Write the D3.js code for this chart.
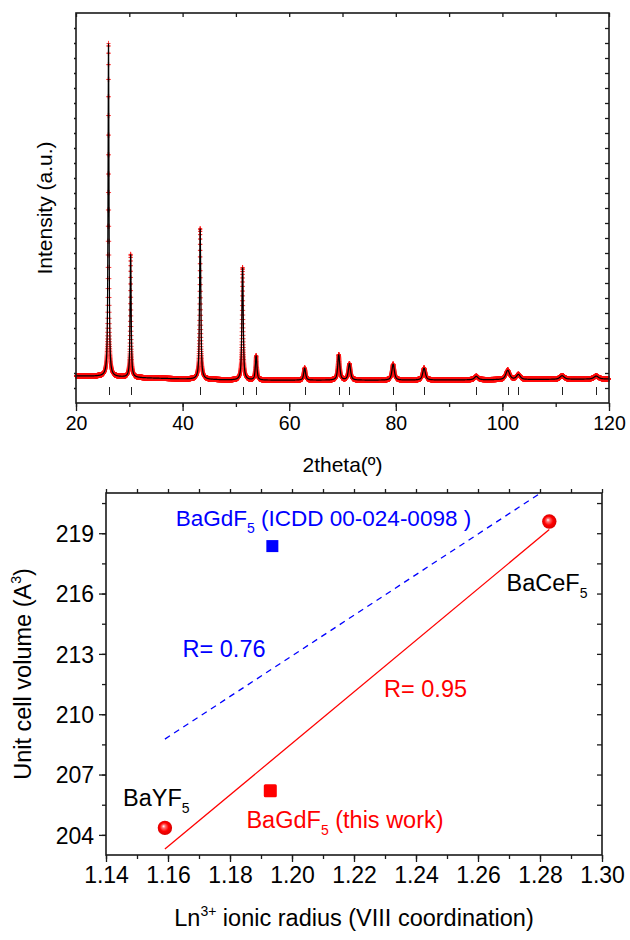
<!DOCTYPE html>
<html>
<head>
<meta charset="utf-8">
<script src="https://cdn.jsdelivr.net/npm/d3@7"></script>
<style>
  html, body { margin: 0; padding: 0; background: #fff; }
  svg { display: block; font-family: "Liberation Sans", Arial, sans-serif; }
</style>
</head>
<body>
<svg id="fig" width="630" height="940"></svg>
<script>
// ---------- XRD pattern (top panel) ----------
// Reflections: position (2theta, deg), net height (counts), FWHM (deg)
const peakPos    = [26.1, 30.25, 43.3, 51.25, 53.8, 62.9, 69.3, 71.3, 79.5, 85.3, 95.1, 101.0, 103.0, 111.2, 117.6];
const peakHeight = [22200, 8200, 10050, 7500, 1600, 800, 1680, 1080, 1060, 790, 230, 620, 330, 240, 200];
const peakFwhm   = [0.22, 0.24, 0.28, 0.30, 0.35, 0.42, 0.45, 0.5, 0.55, 0.6, 0.8, 0.85, 0.85, 0.95, 1.0];
// Background anchor points
const bgTheta  = [20, 25, 30, 40, 50, 60, 80, 100, 120];
const bgCounts = [1800, 1780, 1700, 1600, 1520, 1520, 1520, 1550, 1600];
// Bragg reflection markers
const braggPos = [26.1, 30.25, 43.3, 51.25, 53.8, 62.9, 69.3, 71.3, 79.5, 85.3, 95.1, 101.0, 103.0, 111.2, 117.6];
const xrdTicks = [20, 40, 60, 80, 100, 120];

// ---------- Cell volume vs ionic radius (bottom panel) ----------
const compounds   = ["BaYF5", "BaGdF5 (this work)", "BaCeF5"];
const ionicRadius = [1.159, 1.193, 1.283];
const cellVolume  = [204.35, 206.2, 219.58];
const icddRadius  = [1.1935];
const icddVolume  = [218.36];
const radiusTicks = [1.14, 1.16, 1.18, 1.20, 1.22, 1.24, 1.26, 1.28, 1.30];
const volumeTicks = [204, 207, 210, 213, 216, 219];

const svg = d3.select("#fig");
const axisColor = "#1a1a1a";

// ======================= TOP PANEL =======================
const T = {left: 76, right: 609, top: 13, bottom: 403};
const xT = d3.scaleLinear().domain([20, 120]).range([T.left, T.right]);
const yT = d3.scaleLinear().domain([0, 26000]).range([T.bottom, T.top]);
const bg = d3.scaleLinear().domain(bgTheta).range(bgCounts);

// pseudo-Voigt peak shape
function pv(dx, w) {
  const u = (dx / w) * (dx / w);
  return 0.7 / (1 + 4 * u) + 0.3 * Math.exp(-4 * Math.LN2 * u);
}
function profileAt(t) {
  let s = bg(t);
  for (let i = 0; i < peakPos.length; i++) s += peakHeight[i] * pv(t - peakPos[i], peakFwhm[i]);
  return s;
}
const thetas = d3.range(20, 120.0001, 0.01);
const profile = thetas.map(t => [t, profileAt(t)]);

const gT = svg.append("g");

// observed points: red crosses
let crossPath = "";
for (const [t, c] of profile) {
  const px = xT(t), py = yT(c);
  crossPath += `M${(px - 2).toFixed(2)},${py.toFixed(2)}h4M${px.toFixed(2)},${(py - 2.6).toFixed(2)}v5.2`;
}
gT.append("path").attr("d", crossPath)
  .attr("fill", "none").attr("stroke", "#ff1010").attr("stroke-width", 1).attr("stroke-opacity", 0.8);

// calculated profile
gT.append("path").datum(profile)
  .attr("d", d3.line().x(d => xT(d[0])).y(d => yT(d[1])))
  .attr("fill", "none").attr("stroke", "#000").attr("stroke-width", 1.2);

// Bragg markers
gT.selectAll("line.bragg").data(braggPos).join("line")
  .attr("class", "bragg")
  .attr("x1", d => Math.round(xT(d)) + 0.5).attr("x2", d => Math.round(xT(d)) + 0.5)
  .attr("y1", 387).attr("y2", 395)
  .attr("stroke", "#222").attr("stroke-width", 1);

// axes
function styleAxis(g) {
  g.select(".domain").remove();
  g.selectAll(".tick line").attr("stroke", axisColor).attr("stroke-width", 1.3);
  g.selectAll("text").attr("fill", "#000");
}
const minorT = d3.range(20, 121, 10);
gT.append("g").attr("transform", `translate(0,${T.bottom})`)
  .call(d3.axisBottom(xT).tickValues(minorT).tickSize(4).tickFormat(""))
  .call(styleAxis);
gT.append("g").attr("transform", `translate(0,${T.bottom})`)
  .call(d3.axisBottom(xT).tickValues(xrdTicks).tickSize(8).tickPadding(5).tickFormat(d3.format("d")))
  .call(styleAxis)
  .call(g => g.selectAll("text").attr("font-size", 19.5));
gT.append("g").attr("transform", `translate(0,${T.top})`)
  .call(d3.axisTop(xT).tickValues(minorT).tickSize(-4).tickFormat(""))
  .call(styleAxis);
const intTicks = d3.range(1000, 26000, 1000);
gT.append("g").attr("transform", `translate(${T.left},0)`)
  .call(d3.axisLeft(yT).tickValues(intTicks).tickSize(2).tickFormat(""))
  .call(styleAxis);
gT.append("g").attr("transform", `translate(${T.right},0)`)
  .call(d3.axisRight(yT).tickValues(intTicks).tickSize(-4).tickFormat(""))
  .call(styleAxis);
gT.append("rect").attr("x", T.left).attr("y", T.top)
  .attr("width", T.right - T.left).attr("height", T.bottom - T.top)
  .attr("fill", "none").attr("stroke", axisColor).attr("stroke-width", 1.6);

gT.append("text").attr("x", (T.left + T.right) / 2).attr("y", 472)
  .attr("text-anchor", "middle").attr("font-size", 21).text("2theta(º)");
gT.append("text").attr("transform", `translate(52,${(T.top + T.bottom) / 2}) rotate(-90)`)
  .attr("text-anchor", "middle").attr("font-size", 21).text("Intensity (a.u.)");

// ======================= BOTTOM PANEL =======================
const B = {left: 106, right: 602, top: 493, bottom: 855};
const xB = d3.scaleLinear().domain([1.14, 1.30]).range([B.left, B.right]);
const yB = d3.scaleLinear().domain([203, 221]).range([B.bottom, B.top]);

const defs = svg.append("defs");
const grad = defs.append("radialGradient").attr("id", "sphere")
  .attr("cx", "50%").attr("cy", "50%").attr("r", "55%")
  .attr("fx", "40%").attr("fy", "38%");
grad.append("stop").attr("offset", "0%").attr("stop-color", "#ffffff");
grad.append("stop").attr("offset", "22%").attr("stop-color", "#ff7070");
grad.append("stop").attr("offset", "55%").attr("stop-color", "#ff0000");
grad.append("stop").attr("offset", "100%").attr("stop-color", "#d00000");
defs.append("clipPath").attr("id", "plotB").append("rect")
  .attr("x", B.left).attr("y", B.top).attr("width", B.right - B.left).attr("height", B.bottom - B.top);

const gB = svg.append("g");

// least-squares line through a set of points
function linFit(xs, ys) {
  const mx = d3.mean(xs), my = d3.mean(ys);
  const sxy = d3.sum(xs.map((x, i) => (x - mx) * (ys[i] - my)));
  const sxx = d3.sum(xs.map(x => (x - mx) * (x - mx)));
  const k = sxy / sxx;
  return x => my + k * (x - mx);
}
const xFit = [d3.min(ionicRadius), d3.max(ionicRadius)];
const fitRed = linFit(ionicRadius, cellVolume);
const blueXs = [ionicRadius[0], icddRadius[0], ionicRadius[2]];
const blueYs = [cellVolume[0], icddVolume[0], cellVolume[2]];
const fitBlue = linFit(blueXs, blueYs);

const lineGen = d3.line().x(d => xB(d[0])).y(d => yB(d[1]));
gB.append("path").datum(xFit.map(x => [x, fitBlue(x)]))
  .attr("d", lineGen).attr("clip-path", "url(#plotB)")
  .attr("fill", "none").attr("stroke", "#0000ff").attr("stroke-width", 1.3)
  .attr("stroke-dasharray", "6,5");
gB.append("path").datum(xFit.map(x => [x, fitRed(x)]))
  .attr("d", lineGen)
  .attr("fill", "none").attr("stroke", "#ff0000").attr("stroke-width", 1.3);

// markers
const sq = 12;
gB.selectAll("rect.icdd").data(icddRadius).join("rect").attr("class", "icdd")
  .attr("x", (d, i) => xB(d) - sq / 2 + 0.5).attr("y", (d, i) => yB(icddVolume[i]) - sq / 2)
  .attr("width", sq).attr("height", sq).attr("fill", "#0000ff");
const pts = ionicRadius.map((r, i) => ({r, v: cellVolume[i], name: compounds[i]}));
gB.selectAll("circle.ref").data(pts.filter(p => !p.name.includes("this work"))).join("circle")
  .attr("class", "ref")
  .attr("cx", d => xB(d.r)).attr("cy", d => yB(d.v)).attr("r", 7.2)
  .attr("fill", "url(#sphere)");
gB.selectAll("rect.work").data(pts.filter(p => p.name.includes("this work"))).join("rect")
  .attr("class", "work")
  .attr("x", d => xB(d.r) - 6.5).attr("y", d => yB(d.v) - 6.5)
  .attr("width", 13).attr("height", 13).attr("rx", 1.5).attr("fill", "#ff0000");

// axes
const minorR = d3.range(0, 17).map(i => +(1.14 + i * 0.01).toFixed(2));
const minorV = d3.range(0, 12).map(i => 204 + i * 1.5);
gB.append("g").attr("transform", `translate(0,${B.bottom})`)
  .call(d3.axisBottom(xB).tickValues(minorR).tickSize(4).tickFormat(""))
  .call(styleAxis);
gB.append("g").attr("transform", `translate(0,${B.bottom})`)
  .call(d3.axisBottom(xB).tickValues(radiusTicks).tickSize(7).tickPadding(5).tickFormat(d3.format(".2f")))
  .call(styleAxis)
  .call(g => g.selectAll("text").attr("font-size", 23));
gB.append("g").attr("transform", `translate(0,${B.top})`)
  .call(d3.axisTop(xB).tickValues(minorR).tickSize(4).tickFormat(""))
  .call(styleAxis);
gB.append("g").attr("transform", `translate(${B.left},0)`)
  .call(d3.axisLeft(yB).tickValues(minorV).tickSize(4).tickFormat(""))
  .call(styleAxis);
gB.append("g").attr("transform", `translate(${B.left},0)`)
  .call(d3.axisLeft(yB).tickValues(volumeTicks).tickSize(7).tickPadding(5).tickFormat(d3.format("d")))
  .call(styleAxis)
  .call(g => g.selectAll("text").attr("font-size", 23).attr("dy", "0.36em"));
gB.append("g").attr("transform", `translate(${B.right},0)`)
  .call(d3.axisRight(yB).tickValues(minorV).tickSize(-5).tickFormat(""))
  .call(styleAxis);
gB.append("rect").attr("x", B.left).attr("y", B.top)
  .attr("width", B.right - B.left).attr("height", B.bottom - B.top)
  .attr("fill", "none").attr("stroke", axisColor).attr("stroke-width", 1.6);

// annotations
function label(x, y, color, parts, size) {
  const t = gB.append("text").attr("x", xB(x)).attr("y", yB(y))
    .attr("fill", color).attr("font-size", size);
  parts.forEach(p => {
    if (typeof p === "string") t.append("tspan").attr("dy", 0).text(p);
    else t.append("tspan").attr("dy", p.dy).attr("font-size", p.size).text(p.t);
  });
  return t;
}
const fs = 23.5;
const sub5 = [{t: "5", dy: 7, size: 14}];
label(1.1625, 219.36, "#0000ff", ["BaGdF", ...sub5, {t: " (ICDD 00-024-0098 )", dy: -7, size: 22.5}], 22.5);
label(1.1647, 212.83, "#0000ff", ["R= 0.76"], fs);
label(1.2692, 216.14, "#000", ["BaCeF", ...sub5], fs);
label(1.2297, 210.88, "#ff0000", ["R= 0.95"], fs);
label(1.1455, 205.43, "#000", ["BaYF", ...sub5], fs);
label(1.1853, 204.34, "#ff0000", ["BaGdF", ...sub5, {t: " (this work)", dy: -7, size: fs}], fs);

// axis titles
const xt = gB.append("text").attr("x", (B.left + B.right) / 2).attr("y", 926)
  .attr("text-anchor", "middle").attr("font-size", 23.5);
xt.append("tspan").text("Ln");
xt.append("tspan").attr("dy", -10).attr("font-size", 14).text("3+");
xt.append("tspan").attr("dy", 10).text(" ionic radius (VIII coordination)");

const yt = gB.append("text").attr("transform", `translate(31,${(B.top + B.bottom) / 2}) rotate(-90)`)
  .attr("text-anchor", "middle").attr("font-size", 23.5);
yt.append("tspan").text("Unit cell volume (A");
yt.append("tspan").attr("dy", -10).attr("font-size", 14).text("3");
yt.append("tspan").attr("dy", 10).text(")");
</script>
</body>
</html>
